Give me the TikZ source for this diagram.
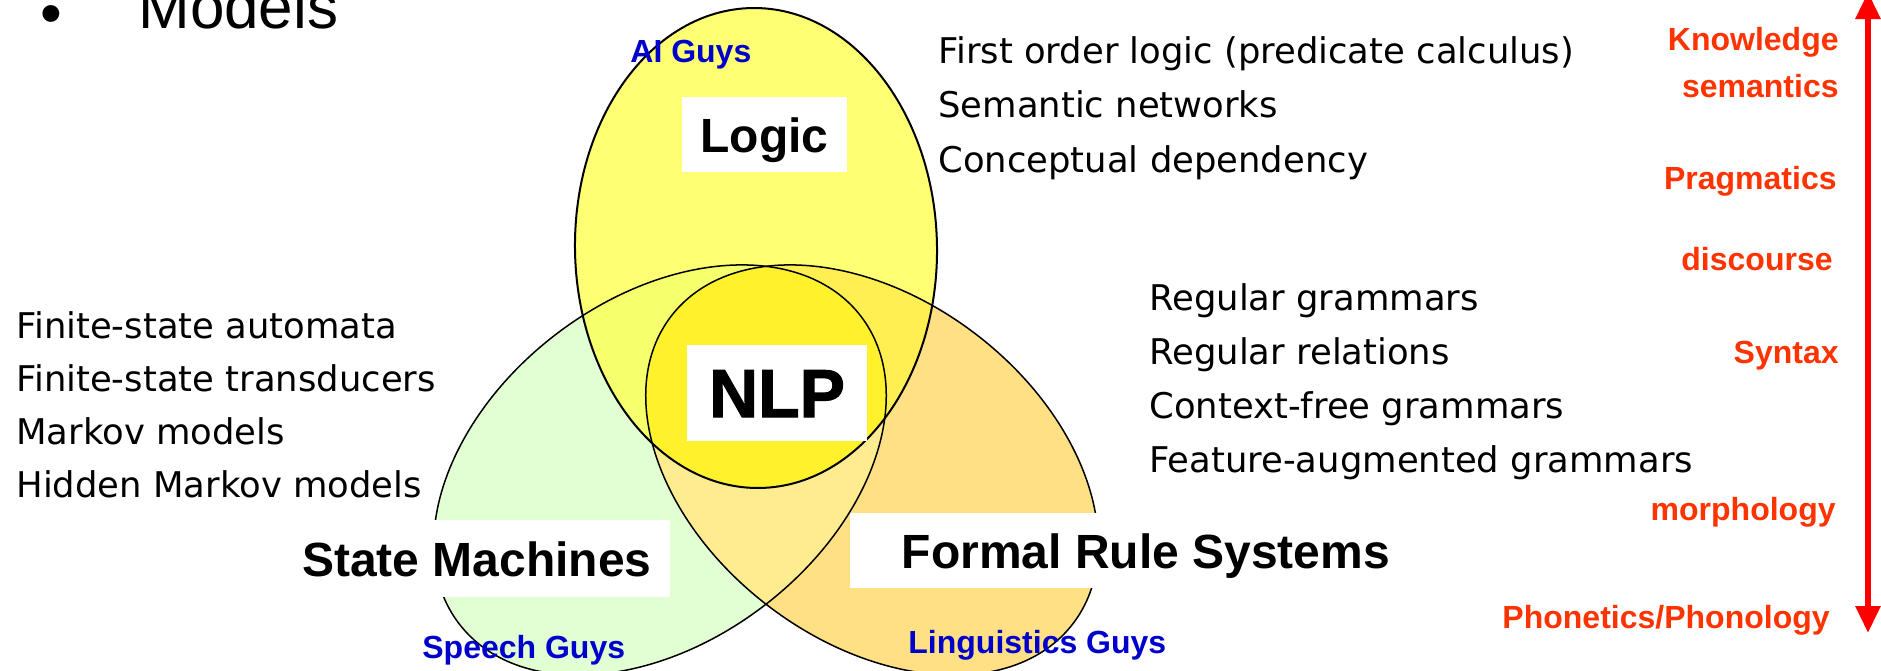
\documentclass[tikz,border=0pt]{standalone}
\usepackage{fontspec}
\setmainfont{Liberation Sans}
\newfontfamily\listfont{DejaVu Sans}
\newfontfamily\heavyfont[FakeBold=1.5]{Liberation Sans Bold}
\usetikzlibrary{arrows.meta}

\definecolor{guyblue}{HTML}{0000CC}
\definecolor{levelred}{HTML}{FF3300}
\definecolor{arrowred}{HTML}{FF0000}
\definecolor{speechfill}{HTML}{E2FFD4}
\definecolor{rulefill}{HTML}{FFE084}
\definecolor{logicfill}{HTML}{FFFF74}
\definecolor{sprfill}{HTML}{FFEB90}
\definecolor{lgsfill}{HTML}{F6FF6C}
\definecolor{lgrfill}{HTML}{FFEF52}
\definecolor{nlpfill}{HTML}{FFF22C}

% the three overlapping areas
\def\logicpath{(756,248) circle [x radius=90.5pt, y radius=120pt, rotate=1]}
\def\speechpath{(660,470) circle [x radius=126.5pt, y radius=85.5pt, rotate=37.4]}
\def\rulepath{(872,470) circle [x radius=126.5pt, y radius=85.5pt, rotate=-37.4]}

\begin{document}
\begin{tikzpicture}[
  x=0.5pt, y=-0.5pt,
  listtxt/.style={anchor=base west,inner sep=0pt,font=\listfont\fontsize{17.7pt}{20pt}\selectfont},
  guys/.style={anchor=base west,inner sep=0pt,text=guyblue,font=\bfseries\fontsize{16pt}{18pt}\selectfont},
  level/.style={anchor=base east,inner sep=0pt,text=levelred,font=\bfseries\fontsize{16pt}{18pt}\selectfont},
  tag/.style={fill=white,inner sep=0pt,text height=17.5pt,text depth=0pt,font=\bfseries\fontsize{24pt}{26pt}\selectfont},
  levelarrow/.style={{Triangle[length=13.5pt,width=12pt]}-{Triangle[length=13.5pt,width=12pt]},line width=3pt,draw=arrowred}
]
  \useasboundingbox (0,0) rectangle (1881,670);

  % fills, overlaps first
  \fill[speechfill] \speechpath;
  \fill[rulefill] \rulepath;
  \begin{scope}
    \clip \speechpath;
    \fill[sprfill] \rulepath;
  \end{scope}
  \fill[logicfill] \logicpath;
  \begin{scope}
    \clip \logicpath;
    \fill[lgsfill] \speechpath;
    \fill[lgrfill] \rulepath;
    \clip \speechpath;
    \fill[nlpfill] \rulepath;
  \end{scope}
  \draw[line width=0.75pt] \speechpath;
  \draw[line width=0.75pt] \rulepath;
  \draw[line width=1pt] \logicpath;

  % white boxes
  \node[tag,minimum width=82.5pt,minimum height=37.5pt] (logic) at (764.5,134.5) {Logic};
  \node[tag,minimum width=90pt,minimum height=48pt,text height=24pt,font=\heavyfont\fontsize{34pt}{36pt}\selectfont] (nlp) at (777,393) {NLP};
  \node[tag,minimum width=193pt,minimum height=38.5pt] (states) at (477,558.5) {State Machines};
  \node[tag,minimum width=296pt,minimum height=37.5pt] (rules) at (1146,550.5) {Formal Rule Systems};

  \node[guys] (aiguys) at (630,62) {AI Guys};
  \node[guys] (speechguys) at (422,658) {Speech Guys};
  \node[guys] (lingguys) at (908,653) {Linguistics Guys};

  % model lists
  \foreach \txt [count=\i from 0] in {First order logic (predicate calculus),Semantic networks,Conceptual dependency}
    \node[listtxt] (logicitem\i) at (938,63+54.5*\i) {\txt};
  \foreach \txt [count=\i from 0] in {Finite-state automata,Finite-state transducers,Markov models,Hidden Markov models}
    \node[listtxt] (stateitem\i) at (16,338+53.3*\i) {\txt};
  \foreach \txt [count=\i from 0] in {Regular grammars,Regular relations,Context-free grammars,Feature-augmented grammars}
    \node[listtxt] (ruleitem\i) at (1149,310+54*\i) {\txt};

  \node[anchor=base,inner sep=0pt,font=\fontsize{31pt}{33pt}\selectfont] (bullet) at (51,34) {•};
  \node[anchor=base west,inner sep=0pt,font=\fontsize{31pt}{33pt}\selectfont] (models) at (138,28) {Models};

  % levels of linguistic knowledge
  \node[level] (knowledge) at (1839,50) {Knowledge};
  \node[level] (semantics) at (1839,97) {semantics};
  \node[level] (pragmatics) at (1837,189) {Pragmatics};
  \node[level] (discourse) at (1833,270) {discourse};
  \node[level] (syntax) at (1839,363) {Syntax};
  \node[level] (morphology) at (1836,520) {morphology};
  \node[level] (phonetics) at (1830,628) {Phonetics/Phonology};

  \coordinate (lvtop) at (1868,-8);
  \coordinate (lvbot) at (1868,633);
  \draw[levelarrow] (lvbot) -- (lvtop);
\end{tikzpicture}
\end{document}
